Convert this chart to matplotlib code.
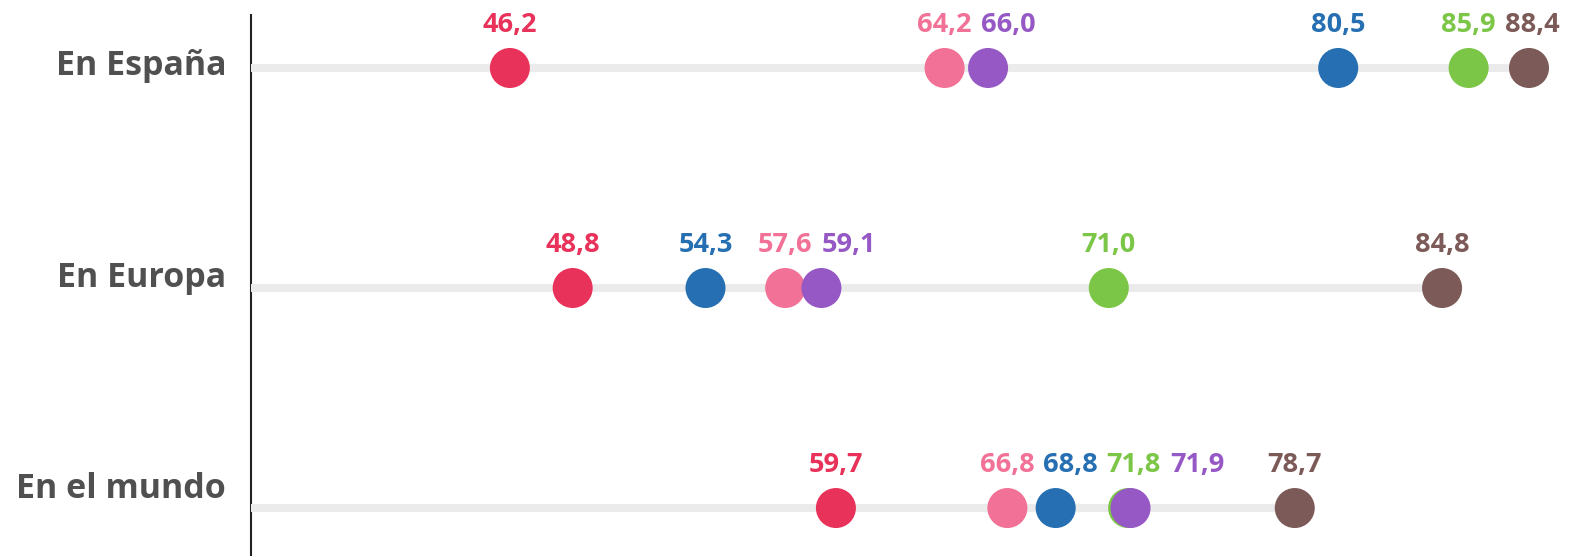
import numpy as np
import matplotlib
matplotlib.use("Agg")
import matplotlib.pyplot as plt

# ---------------------------
# Datos
# ---------------------------
regions = ["En España", "En Europa", "En el mundo"]

# una serie por color (mismo orden que regions)
red    = [46.2, 48.8, 59.7]
pink   = [64.2, 57.6, 66.8]
blue   = [80.5, 54.3, 68.8]
green  = [85.9, 71.0, 71.8]
purple = [66.0, 59.1, 71.9]
brown  = [88.4, 84.8, 78.7]

series = [red, pink, blue, green, purple, brown]
colors = ["#e8325a", "#f27197", "#266fb2", "#7cc647", "#9558c5", "#7c5a58"]

# ---------------------------
# Figura
# ---------------------------
W, H = 1572, 556
fig = plt.figure(figsize=(W / 100, H / 100), dpi=100)
ax = fig.add_axes([251 / W, 0, 1 - 251 / W, 1])

x0, x1 = 35.48, 90.18
ax.set_xlim(x0, x1)
ax.set_ylim(2.218, -0.309)
ax.axis("off")

font = "Open Sans"
txt_grey = "#505050"

# eje vertical
ax.axvline(x0, ymin=0, ymax=(H - 15) / H, color="#222222", lw=1.5, clip_on=False, zorder=1)

min_gap = 2.62  # separacion minima entre etiquetas (en unidades de x)

for i, region in enumerate(regions):
    vals = [s[i] for s in series]

    # linea gris de fondo
    ax.hlines(i, x0, max(vals), color="#ebebeb", lw=5.8, zorder=1, capstyle="butt")

    # puntos
    for v, c in zip(vals, colors):
        ax.scatter(v, i, s=830, color=c, edgecolors="none", zorder=3)

    # etiquetas con empuje simple hacia la derecha para que no se solapen
    order = np.argsort(vals, kind="stable")
    prev = -np.inf
    for k in order:
        lx = max(vals[k], prev + min_gap)
        prev = lx
        ax.annotate(f"{vals[k]:.1f}".replace(".", ","), (lx, i),
                    xytext=(0, 26), textcoords="offset points",
                    ha="center", va="baseline", color=colors[k],
                    fontsize=19.5, fontweight="bold", family=font)

    # nombre de la fila
    ax.annotate(region, (x0, i + 0.032 - 0.0386 * i),
                xytext=(-18, 0), textcoords="offset points",
                ha="right", va="baseline", color=txt_grey,
                fontsize=24.5, fontweight="bold", family=font, annotation_clip=False)

fig.savefig("out.png", dpi=100)
